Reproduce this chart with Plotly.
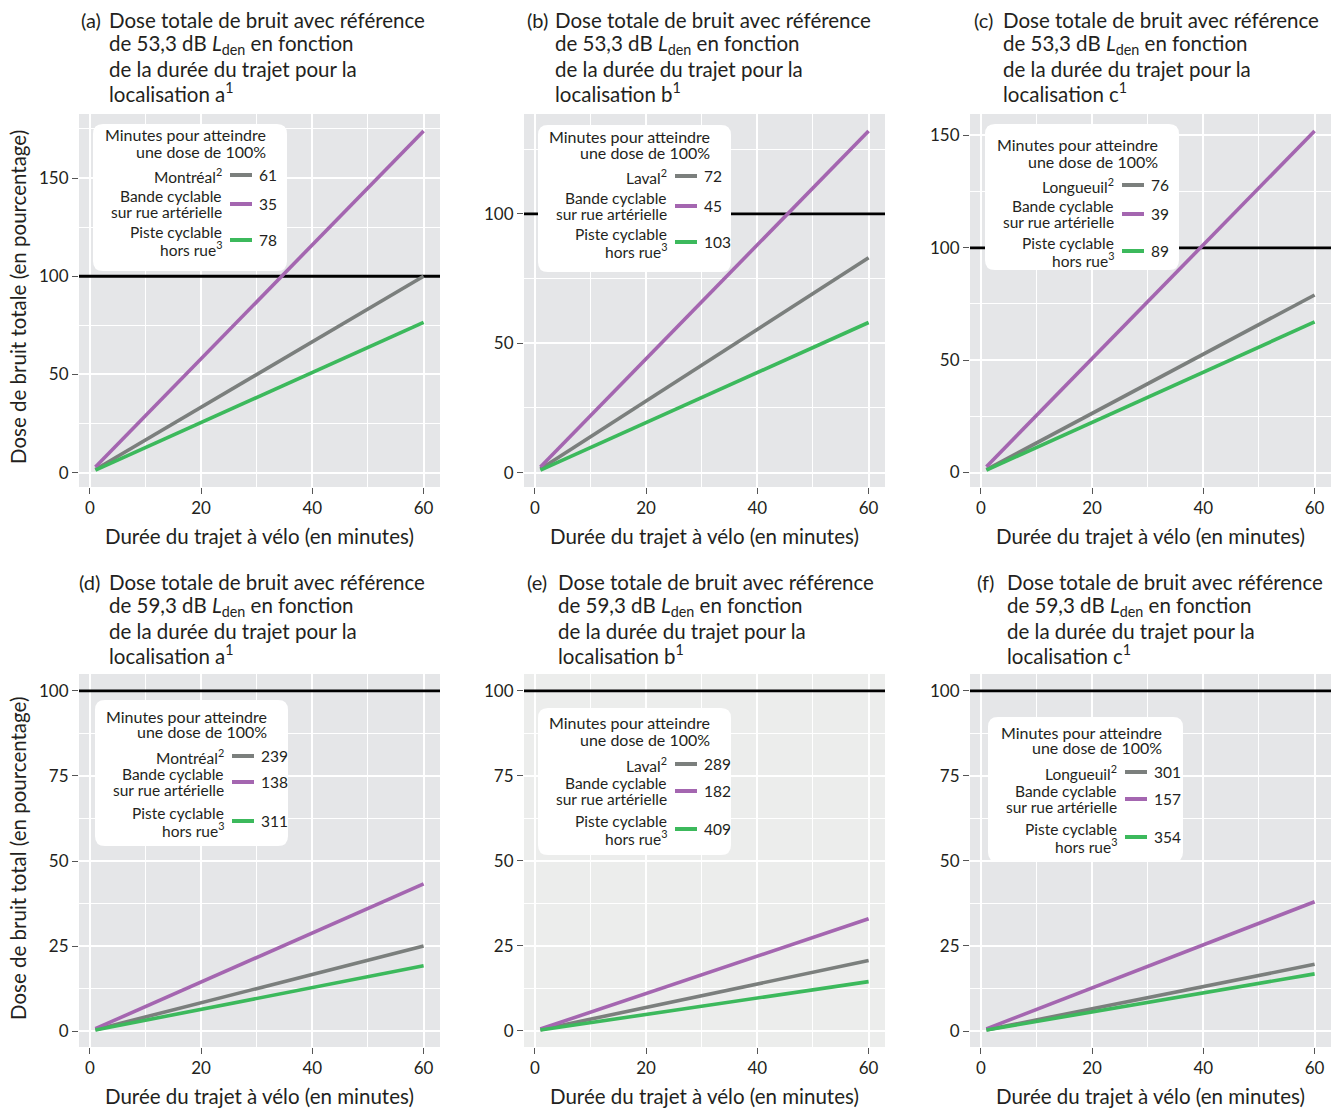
import plotly.graph_objects as go

W, H = 1338, 1108

# ---------------- data ----------------
minutes = [1, 60]  # durée du trajet (x)

panel_letters = ["a", "b", "c", "d", "e", "f"]
ref_levels = ["53,3", "53,3", "53,3", "59,3", "59,3", "59,3"]
location_letters = ["a", "b", "c", "a", "b", "c"]
city_names = ["Montréal", "Laval", "Longueuil", "Montréal", "Laval", "Longueuil"]

# dose (%) at minutes[0] and minutes[-1] for each panel
dose_city = [[1.6, 100.0], [1.4, 83.0], [1.3, 79.0], [0.4, 25.0], [0.35, 20.7], [0.33, 19.6]]
dose_bande = [[2.9, 174.0], [2.2, 132.0], [2.6, 152.0], [0.7, 43.3], [0.55, 33.0], [0.64, 38.0]]
dose_piste = [[1.3, 76.5], [1.0, 58.0], [1.1, 67.0], [0.3, 19.2], [0.25, 14.5], [0.28, 16.8]]

# minutes to reach 100 % dose (legend values)
min100_city = [61, 72, 76, 239, 289, 301]
min100_bande = [35, 45, 39, 138, 182, 157]
min100_piste = [78, 103, 89, 311, 409, 354]

reference_dose = 100

x_ticks = [0, 20, 40, 60]
y_dtick_rows = [50, 25]

# ---------------- style ----------------
C_CITY = "#7b7f7d"
C_BANDE = "#a466b0"
C_PISTE = "#3cb95c"
BG = "#e5e6e8"
BG_E = "#ecedec"
TXT = "#231f20"
FONT = "Lato"

cols_px = [(79, 440), (524, 885), (970, 1331)]
rows_px = [(114, 487), (674, 1047)]

# legend box (x0, y0, x1, y1) and internal offsets (title1, title2, item1, item2, item3)
leg_boxes = [(93, 124, 287, 271), (538, 125, 731, 272), (985, 124, 1179, 270),
             (95, 700, 288, 846), (538, 708, 731, 855), (988, 717, 1183, 862)]
leg_offsets = [(11, 28, 51, 80, 116), (12, 28, 51, 81, 117), (21, 37, 61, 90, 127),
               (16, 31, 56, 82, 121), (15, 31, 56, 83, 121), (15, 30, 55, 82, 120)]

# title positions: (x of "(a)", x of text block, y of first line)
title_pos = [(79, 107, 20), (525, 553, 20), (972, 1001, 20),
             (77, 107, 582), (525, 556, 582), (975, 1005, 582)]


def fx(px):
    return px / W


def fy(py):
    return 1 - py / H


fig = go.Figure()
shapes = []
annotations = []


def ann(text, x, y, xanchor="left", size=15, **kw):
    annotations.append(dict(text=text, x=fx(x), y=fy(y), xref="paper", yref="paper",
                            xanchor=xanchor, yanchor="middle", showarrow=False,
                            font=dict(family=FONT, size=size, color=TXT), **kw))


for i in range(6):
    r, c = divmod(i, 3)
    n = "" if i == 0 else str(i + 1)
    xa, ya = "x" + n, "y" + n
    x0, x1 = cols_px[c]
    y0, y1 = rows_px[r]

    series = [(dose_city[i], C_CITY), (dose_bande[i], C_BANDE), (dose_piste[i], C_PISTE)]
    allv = [v for s, _ in series for v in s] + [reference_dose]
    lo, hi = min(allv), max(allv)
    pad = 0.05 * (hi - lo)
    xpad = 0.05 * (max(minutes) - min(minutes))
    xr = [min(minutes) - xpad, max(minutes) + xpad]
    dt = y_dtick_rows[r]

    # reference line at 100 % across the whole panel
    fig.add_trace(go.Scatter(x=xr, y=[reference_dose, reference_dose], mode="lines",
                             xaxis=xa, yaxis=ya, line=dict(color="black", width=2.8),
                             showlegend=False, hoverinfo="skip"))

    for vals, col in series:
        fig.add_trace(go.Scatter(x=minutes, y=vals, mode="lines", xaxis=xa, yaxis=ya,
                                 line=dict(color=col, width=3.6), showlegend=False,
                                 hoverinfo="skip"))

    fig.layout["xaxis" + n] = dict(
        domain=[fx(x0), fx(x1)], anchor=ya, range=xr,
        tickvals=x_ticks, ticks="outside", ticklen=6, tickwidth=1, tickcolor="#555",
        tickfont=dict(family=FONT, size=17, color=TXT), showgrid=True, gridcolor="white",
        gridwidth=2, zeroline=False, showline=False,
        minor=dict(dtick=10, tick0=0, showgrid=True, gridcolor="white", gridwidth=1, ticks=""))
    fig.layout["yaxis" + n] = dict(
        domain=[fy(y1), fy(y0)], anchor=xa, range=[lo - pad, hi + pad],
        dtick=dt, tick0=0, ticks="outside", ticklen=6, tickwidth=1, tickcolor="#555",
        tickfont=dict(family=FONT, size=17, color=TXT), showgrid=True, gridcolor="white",
        gridwidth=2, zeroline=False, showline=False,
        minor=dict(dtick=dt / 2, tick0=0, showgrid=True, gridcolor="white", gridwidth=1, ticks=""))

    if panel_letters[i] == "e":
        shapes.append(dict(type="rect", xref=xa + " domain", yref=ya + " domain",
                           x0=0, x1=1, y0=0, y1=1, fillcolor=BG_E, line=dict(width=0),
                           layer="below"))

    # titles
    tx0, tx1, ty = title_pos[i]
    ann("(%s)" % panel_letters[i], tx0, ty, size=20)
    lines = ["Dose totale de bruit avec référence",
             "de %s dB <i>L</i><sub>den</sub> en fonction" % ref_levels[i],
             "de la durée du trajet pour la",
             "localisation %s<sup>1</sup>" % location_letters[i]]
    for k, t in enumerate(lines):
        ann(t, tx1, ty + 24.3 * k, size=20.5)

    # x axis title
    ann("Durée du trajet à vélo (en minutes)", (x0 + x1) / 2, y1 + 49, xanchor="center", size=20.5)

    # legend box
    bx0, by0, bx1, by1 = leg_boxes[i]
    rr = 10

    def P(px, py):
        return "%.6f,%.6f" % (fx(px), fy(py))

    path = ("M %s L %s Q %s %s L %s Q %s %s L %s Q %s %s L %s Q %s %s Z" % (
        P(bx0 + rr, by0), P(bx1 - rr, by0), P(bx1, by0), P(bx1, by0 + rr),
        P(bx1, by1 - rr), P(bx1, by1), P(bx1 - rr, by1),
        P(bx0 + rr, by1), P(bx0, by1), P(bx0, by1 - rr),
        P(bx0, by0 + rr), P(bx0, by0), P(bx0 + rr, by0)))
    shapes.append(dict(type="path", path=path, xref="paper", yref="paper",
                       fillcolor="white", line=dict(width=0), layer="above"))

    o = leg_offsets[i]
    ann("Minutes pour atteindre", bx1 - 19, by0 + o[0], xanchor="right", size=16)
    ann("une dose de 100%", bx1 - 19, by0 + o[1], xanchor="right", size=16)

    items = [([city_names[i] + "<sup>2</sup>"], C_CITY, min100_city[i], o[2]),
             (["Bande cyclable", "sur rue artérielle"], C_BANDE, min100_bande[i], o[3]),
             (["Piste cyclable", "hors rue<sup>3</sup>"], C_PISTE, min100_piste[i], o[4])]
    for labs, col, num, yc in items:
        yy = by0 + yc
        if len(labs) == 1:
            ann(labs[0], bx0 + 131, yy, xanchor="right", size=15.5)
        else:
            ann(labs[0], bx0 + 131, yy - 8.3, xanchor="right", size=15.5)
            ann(labs[1], bx0 + 131, yy + 8.3, xanchor="right", size=15.5)
        shapes.append(dict(type="line", xref="paper", yref="paper",
                           x0=fx(bx0 + 137), x1=fx(bx0 + 159), y0=fy(yy), y1=fy(yy),
                           line=dict(color=col, width=4), layer="above"))
        ann(str(num), bx0 + 164, yy, xanchor="left", size=15.5)

# y axis titles
ann("Dose de bruit totale (en pourcentage)", 18, 297, xanchor="center", size=20.5, textangle=-90)
ann("Dose de bruit total (en pourcentage)", 18, 859, xanchor="center", size=20.5, textangle=-90)

fig.update_layout(width=W, height=H, margin=dict(l=0, r=0, t=0, b=0),
                  plot_bgcolor=BG, paper_bgcolor="white",
                  shapes=shapes, annotations=annotations, showlegend=False)

fig.write_html("out.html", config={"displayModeBar": False},
               post_script="document.body.style.margin='0';")
